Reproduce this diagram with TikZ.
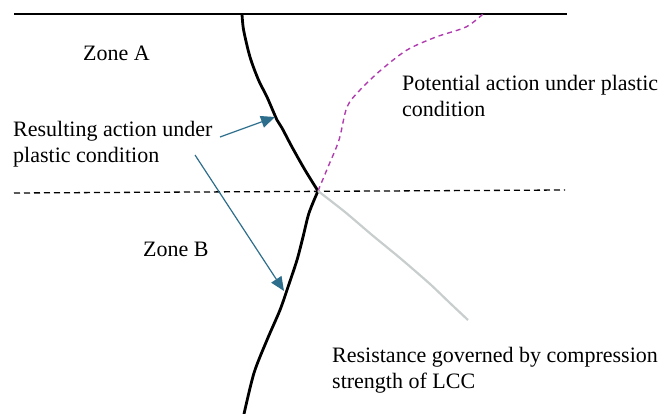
\documentclass[tikz,border=0pt]{standalone}
\usepackage{fontspec}
\setmainfont{Liberation Serif}
\usetikzlibrary{arrows.meta}
\definecolor{pointer}{RGB}{45,110,140}
\definecolor{potential}{RGB}{176,60,176}
\definecolor{resist}{RGB}{200,205,205}
\begin{document}
\begin{tikzpicture}[x=1pt,y=-1pt,
  lbl/.style={inner sep=0pt,anchor=base west,align=left,font=\fontsize{22}{26}\selectfont},
  crack/.style={line width=2.8pt,line join=round},
  ptr/.style={pointer,line width=1.2pt,-{Triangle[length=14pt,width=12pt]}}]
\useasboundingbox (0,0) rectangle (664,414);
\pgfmathsetmacro{\xmin}{14}
\pgfmathsetmacro{\xmax}{567}
\pgfmathsetmacro{\ytop}{14}
\pgfmathsetmacro{\ymid}{191}
  \coordinate (kink) at (318,\ymid);
  % surface and zone boundary
  \draw[line width=2.8pt] (\xmin,\ytop) -- (\xmax,\ytop);
  \draw[line width=1.3pt,dash pattern=on 6pt off 4pt] (\xmin,193) -- (565,190);
  % actual crack
  \draw[crack] plot[smooth,tension=0.5] coordinates {(242,\ytop) (243.6,30) (250,57) (258.5,80) (267,97) (277,120) (282,128) (292,147) (305,170) (kink)};
  \draw[crack] plot[smooth,tension=0.5] coordinates {(kink) (309,213) (303,237) (297,260) (288,287) (280,310) (267,340) (254,373) (244,414)};
  % potential and resistance paths
  \draw[potential,line width=1.4pt,dash pattern=on 5pt off 4pt] plot[smooth,tension=0.5] coordinates {(kink) (328,167) (339,140) (347,107) (360,90) (381,70) (407,50) (436,37) (466,27) (483,\ytop)};
  \draw[resist,line width=2.2pt] plot[smooth,tension=0.4] coordinates {(kink) (345,212) (372,235) (400,258) (430,284) (452,305) (468,320)};
  % labels (base = last line)
  \node[lbl] (zonea) at (83,61) {Zone A};
  \node[lbl] (zoneb) at (143,256) {Zone B};
  \node[lbl] (result) at (13,163) {Resulting action under\\plastic condition};
  \node[lbl] (potent) at (402,117) {Potential action under plastic\\condition};
  \node[lbl] (resistance) at (332,388) {Resistance governed by compression\\strength of LCC};
  % pointers
  \coordinate (tailA) at (220,137);
  \coordinate (headA) at (275,117);
  \coordinate (tailB) at (195,155);
  \coordinate (headB) at (284,291);
  \draw[ptr] (tailA) -- (headA);
  \draw[ptr] (tailB) -- (headB);
\end{tikzpicture}
\end{document}
